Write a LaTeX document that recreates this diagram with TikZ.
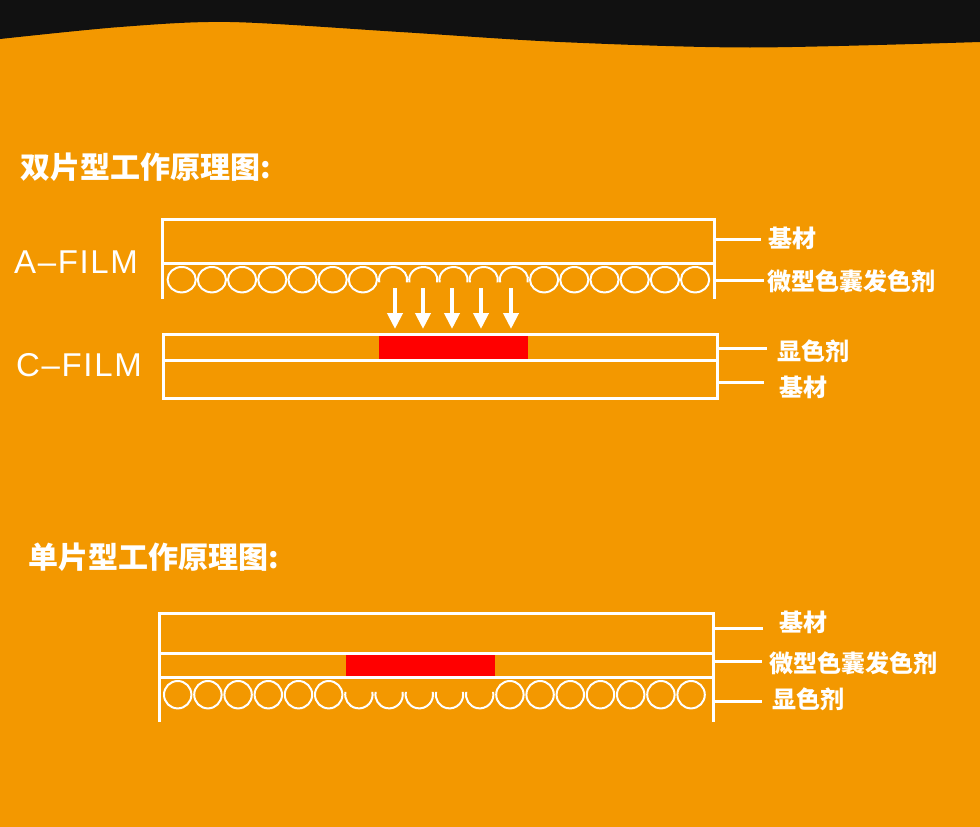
\documentclass[tikz,border=0pt]{standalone}
\usepackage{fontspec}
\newfontfamily\cjk{Noto Sans CJK SC}
\newfontfamily\filmfont{Liberation Sans}[LetterSpace=5]
\usetikzlibrary{arrows.meta}
\definecolor{bgorange}{HTML}{F39800}
\definecolor{darkband}{HTML}{111111}
\definecolor{hot}{HTML}{FF0000}
\begin{document}
\begin{tikzpicture}[x=1pt,y=1pt,
  frame/.style={draw=white,line width=3pt},
  bubble/.style={draw=white,line width=2pt},
  lead/.style={draw=white,line width=3pt},
  lbl/.style={anchor=west,text=white,font=\cjk\bfseries\fontsize{24}{24}\selectfont,inner sep=0pt},
  ttl/.style={anchor=west,text=white,font=\cjk\bfseries\fontsize{30}{30}\selectfont,inner sep=0pt},
  filmlbl/.style={anchor=west,text=white,font=\filmfont\fontsize{33}{33}\selectfont,inner sep=0pt},
  flow/.style={draw=white,line width=4pt,-{Triangle[width=15pt,length=16pt]}}]
\fill[bgorange] (0,0) rectangle (980,-827);
\useasboundingbox (0,0) rectangle (980,-827);
\fill[darkband] plot[smooth] coordinates {(0,-39) (120,-27) (230,-22) (400,-32) (560,-42) (750,-47.5) (980,-42)} -- (980,0) -- (0,0) -- cycle;

% titles
\node[ttl] (t1) at (20,-167) {双片型工作原理图:};
\node[ttl] (t2) at (28,-557) {单片型工作原理图:};
\node[filmlbl] (af) at (14,-262) {A–FILM};
\node[filmlbl] (cf) at (16,-365) {C–FILM};

% A film
\draw[frame] (162.7,-299) -- (162.7,-219.5) -- (714,-219.5) -- (714,-299);
\draw[frame] (162.7,-263) -- (714,-263);
\foreach \i in {0,...,6,12,13,...,17}
  \draw[bubble] ({181.7+30.2*\i},-279.7) ellipse[x radius=14.1,y radius=12.7];
\foreach \i in {7,...,11}
  \draw[bubble] ({181.7+30.2*\i},-279.7) ++(-12:14.1 and 12.7) arc[start angle=-12,end angle=192,x radius=14.1,y radius=12.7];

% arrows
\foreach \x [count=\k] in {395,423,452,481,511}{
  \coordinate (s\k) at (\x,-288);
  \coordinate (e\k) at (\x,-329);
  \draw[flow] (s\k) -- (e\k);
}

% C film
\fill[hot] (379,-335.5) rectangle (528,-358.5);
\draw[frame] (163.3,-334) rectangle (717.7,-398);
\draw[frame] (163.3,-360) -- (717.7,-360);

% labels top
\node[lbl] (a1) at (768,-238.5) {基材};
\node[lbl] (a2) at (767,-281) {微型色囊发色剂};
\node[lbl] (c1) at (777,-351) {显色剂};
\node[lbl] (c2) at (779,-387.5) {基材};
\draw[lead] (714,-239.3) -- ++(47,0);
\draw[lead] (714,-280) -- ++(50,0);
\draw[lead] (717.7,-348.3) -- ++(49,0);
\draw[lead] (717.7,-382.7) -- ++(46,0);

% single film
\fill[hot] (346,-655) rectangle (495,-676.5);
\draw[frame] (159.3,-722) -- (159.3,-613.3) -- (713.7,-613.3) -- (713.7,-722);
\draw[frame] (159.3,-653.3) -- (713.7,-653.3);
\draw[frame] (159.3,-677.7) -- (713.7,-677.7);
\foreach \i in {0,...,5,11,12,...,17}
  \draw[bubble] ({177.7+30.2*\i},-694.7) circle[radius=13.7];
\foreach \i in {6,...,10}
  \draw[bubble] ({177.7+30.2*\i},-694.7) ++(168:13.7) arc[start angle=168,end angle=372,radius=13.7];

\node[lbl] (b1) at (779,-622) {基材};
\node[lbl] (b2) at (769,-663) {微型色囊发色剂};
\node[lbl] (b3) at (772,-699) {显色剂};
\draw[lead] (713.7,-628.3) -- ++(49,0);
\draw[lead] (713.7,-661.7) -- ++(48,0);
\draw[lead] (713.7,-701.7) -- ++(48,0);
\end{tikzpicture}
\end{document}
